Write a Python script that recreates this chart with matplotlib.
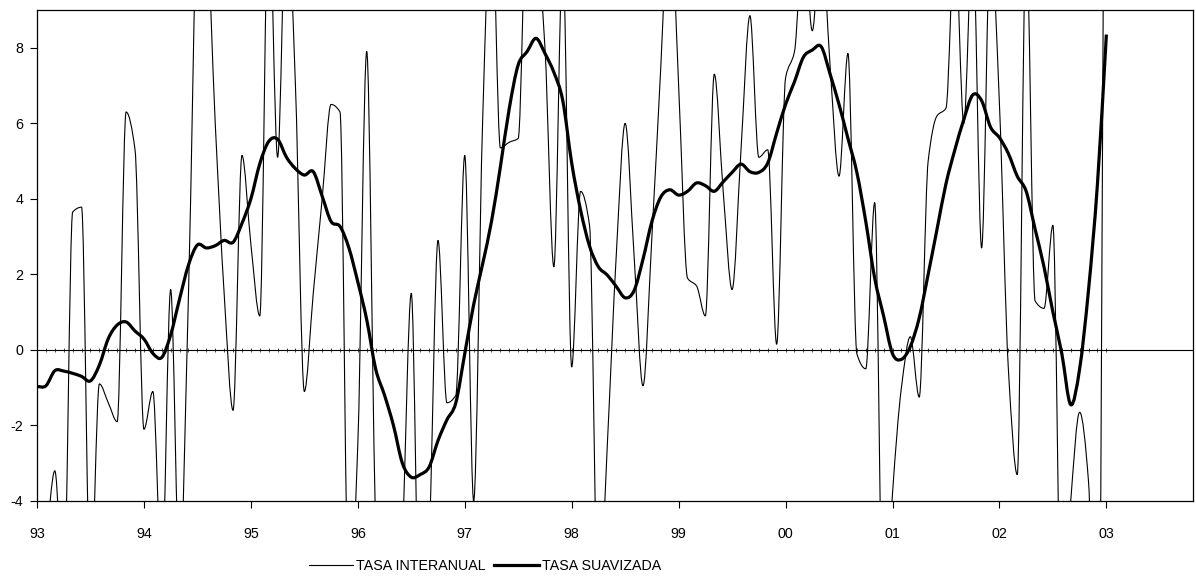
import numpy as np
import matplotlib.pyplot as plt
from matplotlib.path import Path
from matplotlib.patches import PathPatch
from matplotlib.lines import Line2D

plt.rcParams['font.family'] = ['Liberation Sans', 'DejaVu Sans']
plt.rcParams['axes.unicode_minus'] = False

# monthly series, Jan 1993 .. Jan 2003
start_year = 1993
n_months = 121
year_ticks = list(range(1993, 2004))
year_labels = ["93", "94", "95", "96", "97", "98", "99", "00", "01", "02", "03"]

tasa_interanual = [
    -6.0, -5.0, -3.2, -6.5, 3.65, 3.78, -6.5, -0.9, -1.4, -1.9, 6.3, 5.3,      # 93
    -2.1, -1.1, -6.0, 1.6, -6.0, 1.5, 11.0, 11.0, 6.0, 1.5, -1.6, 5.15,        # 94
    2.8, 0.9, 12.0, 5.1, 12.0, 7.0, -1.1, 1.5, 4.0, 6.5, 6.3, -7.0,            # 95
    -2.5, 7.9, -4.5, -9.0, -9.0, -5.0, 1.5, -8.0, -5.0, 2.9, -1.4, -1.2,       # 96
    5.15, -4.0, 6.0, 12.0, 5.35, 5.5, 5.6, 12.0, 11.0, 8.0, 2.2, 10.5,         # 97
    -0.45, 4.2, 3.3, -7.0, -2.5, 2.5, 6.0, 2.5, -0.95, 3.0, 7.5, 12.0,         # 98
    7.0, 1.9, 1.7, 0.9, 7.3, 4.2, 1.6, 5.3, 8.85, 5.1, 5.3, 0.15,              # 99
    7.2, 7.9, 11.0, 8.45, 11.0, 7.5, 4.6, 7.85, -0.1, -0.5, 3.9, -8.0,         # 00
    -3.8, -1.0, 0.35, -1.25, 5.0, 6.2, 6.4, 11.0, 6.0, 11.0, 2.7, 11.0,        # 01
    6.5, -0.5, -3.3, 11.0, 1.3, 1.1, 3.3, -8.0, -4.0, -1.65, -3.5, -12.0,      # 02
    25.0,                                                                      # 03
]

tasa_suavizada = [
    -0.97, -0.95, -0.55, -0.56, -0.62, -0.7, -0.82, -0.4, 0.3, 0.66, 0.74, 0.5,
    0.29, -0.09, -0.2, 0.4, 1.35, 2.25, 2.78, 2.7, 2.76, 2.9, 2.85, 3.35,
    4.0, 4.93, 5.52, 5.58, 5.1, 4.8, 4.63, 4.72, 4.07, 3.4, 3.27, 2.7,
    1.8, 0.8, -0.5, -1.2, -2.0, -3.0, -3.37, -3.3, -3.1, -2.4, -1.85, -1.4,
    -0.1, 1.2, 2.27, 3.4, 4.85, 6.4, 7.55, 7.9, 8.25, 7.85, 7.35, 6.6,
    4.95, 3.7, 2.75, 2.2, 1.98, 1.68, 1.38, 1.57, 2.4, 3.4, 4.05, 4.24,
    4.1, 4.2, 4.42, 4.35, 4.2, 4.45, 4.7, 4.92, 4.72, 4.7, 4.95, 5.74,
    6.5, 7.1, 7.75, 7.94, 8.03, 7.3, 6.5, 5.6, 4.7, 3.4, 1.9, 0.9,
    -0.1, -0.25, 0.09, 0.85, 2.0, 3.2, 4.4, 5.3, 6.1, 6.75, 6.6, 5.9,
    5.62, 5.2, 4.6, 4.2, 3.2, 2.2, 1.0, -0.1, -1.45, -0.5, 1.6, 4.4,
    8.35,
]

dates = start_year + np.arange(n_months) / 12.0


def smooth_line(ax, x, y, lw, monotone=True):
    # smoothed line drawn as cubic bezier segments through the data points
    x = np.asarray(x, float)
    y = np.asarray(y, float)
    h = np.diff(x)
    d = np.diff(y) / h
    m = np.zeros_like(y)
    m[0] = d[0]
    m[-1] = d[-1]
    for i in range(1, len(y) - 1):
        if monotone:
            if d[i - 1] * d[i] > 0:
                m[i] = 2.0 / (1.0 / d[i - 1] + 1.0 / d[i])
        else:
            m[i] = (d[i - 1] + d[i]) / 2
    verts = [(x[0], y[0])]
    codes = [Path.MOVETO]
    for i in range(len(y) - 1):
        verts.append((x[i] + h[i] / 3, y[i] + m[i] * h[i] / 3))
        verts.append((x[i + 1] - h[i] / 3, y[i + 1] - m[i + 1] * h[i] / 3))
        verts.append((x[i + 1], y[i + 1]))
        codes += [Path.CURVE4] * 3
    patch = PathPatch(Path(verts, codes), fill=False, lw=lw, edgecolor="black",
                      joinstyle="round", capstyle="butt")
    ax.add_patch(patch)


fig = plt.figure(figsize=(11.96, 5.81), dpi=100)
ax = fig.add_axes([37 / 1196, 80 / 581, 1156 / 1196, 491 / 581])
ax.set_xlim(1993, 2003.81)
ax.set_ylim(-4, 9)

smooth_line(ax, dates, tasa_interanual, lw=0.8)
smooth_line(ax, dates, tasa_suavizada, lw=2.3, monotone=False)

# zero line with small monthly marks
ax.axhline(0, color="black", lw=0.8)
ax.plot(dates, np.zeros(n_months), linestyle="none", marker="|", ms=2.5, mew=0.5, color="black")

ax.set_xticks(year_ticks)
ax.set_xticklabels(year_labels)
ax.set_yticks(np.arange(-4, 9, 2))
ax.tick_params(axis="both", direction="out", length=5, width=0.8, labelsize=10.3, colors="black")
ax.tick_params(axis="x", pad=14)
ax.tick_params(axis="y", pad=5)
for sp in ax.spines.values():
    sp.set_linewidth(0.9)

handles = [
    Line2D([], [], color="black", lw=0.8),
    Line2D([], [], color="black", lw=2.3),
]
fig.legend(handles, ["TASA INTERANUAL", "TASA SUAVIZADA"], loc="center",
           bbox_to_anchor=(485 / 1196, 1 - 566 / 581), ncol=2, frameon=False,
           fontsize=10.3, handlelength=3.1, handletextpad=0.2, columnspacing=0.6)

fig.savefig("out.png", dpi=100)
